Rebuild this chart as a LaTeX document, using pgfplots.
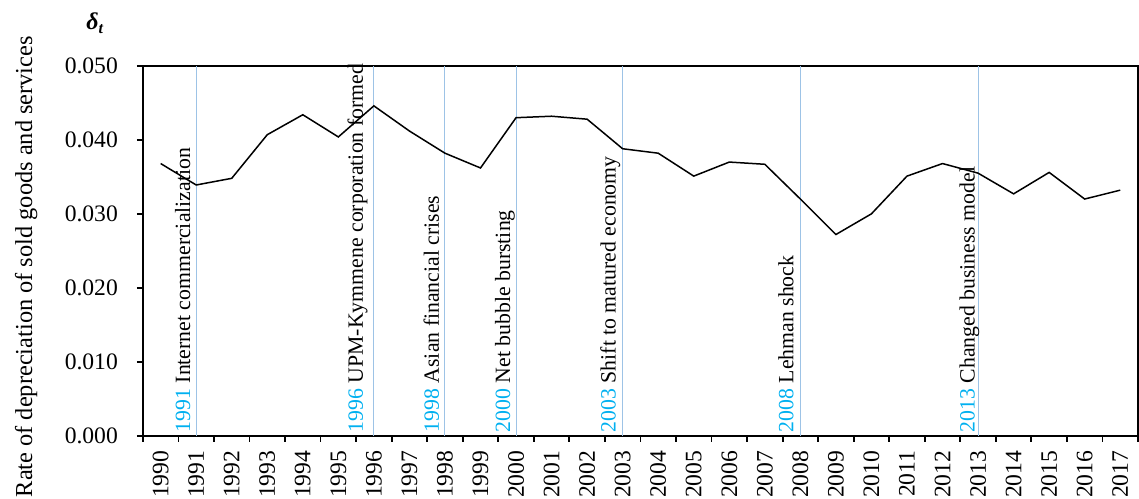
\documentclass[border=0pt]{standalone}
\usepackage{fontspec}
\setmainfont{Liberation Serif}
\usepackage{pgfplots}
\pgfplotsset{compat=1.18}

\definecolor{evline}{RGB}{157,195,230}
\definecolor{evyear}{RGB}{0,176,240}
\newcommand{\tickfont}{\fontsize{11.8}{14}\selectfont}
\newcommand{\evfont}{\fontsize{10.9}{13}\selectfont}

\begin{document}
\begin{tikzpicture}
\begin{axis}[
    name=ax,
    scale only axis,
    width=498pt, height=185pt,
    xmin=-0.5, xmax=27.5,
    ymin=0, ymax=0.05,
    clip=false,
    axis line style={line width=0.9pt},
    tick pos=left,
    tick align=outside,
    major tick length=3pt,
    tick style={black, line width=0.9pt},
    xtick={-0.5,0.5,...,27.5},
    xticklabels={},
    extra x ticks={0,...,27},
    extra x tick labels={1990,1991,1992,1993,1994,1995,1996,1997,1998,1999,2000,2001,2002,2003,2004,2005,2006,2007,2008,2009,2010,2011,2012,2013,2014,2015,2016,2017},
    extra x tick style={major tick length=0pt,
        xticklabel style={yshift=-4pt, rotate=90, anchor=east, font=\tickfont}},
    ytick={0,0.01,0.02,0.03,0.04,0.05},
    scaled y ticks=false,
    yticklabel style={font=\tickfont, xshift=-6pt,
        /pgf/number format/.cd, fixed, fixed zerofill, precision=3},
    /pgf/number format/assume math mode=true,
    ylabel={Rate of depreciation of sold goods and services},
    ylabel style={font=\fontsize{12.2}{14}\selectfont,
        at={([xshift=-67.5pt]axis description cs:0,0.457)}, anchor=north},
]

% event markers
\addplot[evline, line width=0.5pt, forget plot] coordinates {(1,0) (1,0.05)};
\addplot[evline, line width=0.5pt, forget plot] coordinates {(6,0) (6,0.05)};
\addplot[evline, line width=0.5pt, forget plot] coordinates {(8,0) (8,0.05)};
\addplot[evline, line width=0.5pt, forget plot] coordinates {(10,0) (10,0.05)};
\addplot[evline, line width=0.5pt, forget plot] coordinates {(13,0) (13,0.05)};
\addplot[evline, line width=0.5pt, forget plot] coordinates {(18,0) (18,0.05)};
\addplot[evline, line width=0.5pt, forget plot] coordinates {(23,0) (23,0.05)};

% delta_t
\addplot[black, line width=0.75pt] coordinates {
    (0,0.0368) (1,0.0339) (2,0.0348) (3,0.0407) (4,0.0434) (5,0.0404)
    (6,0.0446) (7,0.0412) (8,0.0382) (9,0.0362) (10,0.0430) (11,0.0432)
    (12,0.0428) (13,0.0388) (14,0.0382) (15,0.0351) (16,0.0370) (17,0.0367)
    (18,0.0320) (19,0.0272) (20,0.0300) (21,0.0351) (22,0.0368) (23,0.0355)
    (24,0.0327) (25,0.0356) (26,0.0320) (27,0.0332)
};

\node[rotate=90, anchor=base west, inner sep=0pt, font=\evfont]
    at ([xshift=-3pt,yshift=1.5pt]axis cs:1,0) {\textcolor{evyear}{1991} Internet commercialization};
\node[rotate=90, anchor=base west, inner sep=0pt, font=\evfont]
    at ([xshift=-5.5pt,yshift=1.5pt]axis cs:6,0) {\textcolor{evyear}{1996} UPM-Kymmene corporation formed};
\node[rotate=90, anchor=base west, inner sep=0pt, font=\evfont]
    at ([xshift=-3pt,yshift=1.5pt]axis cs:8,0) {\textcolor{evyear}{1998} Asian financial crises};
\node[rotate=90, anchor=base west, inner sep=0pt, font=\evfont]
    at ([xshift=-3pt,yshift=1.5pt]axis cs:10,0) {\textcolor{evyear}{2000} Net bubble bursting};
\node[rotate=90, anchor=base west, inner sep=0pt, font=\evfont]
    at ([xshift=-3.5pt,yshift=1.5pt]axis cs:13,0) {\textcolor{evyear}{2003} Shift to matured economy};
\node[rotate=90, anchor=base west, inner sep=0pt, font=\evfont]
    at ([xshift=-3.5pt,yshift=1.5pt]axis cs:18,0) {\textcolor{evyear}{2008} Lehman shock};
\node[rotate=90, anchor=base west, inner sep=0pt, font=\evfont]
    at ([xshift=-1.75pt,yshift=1.5pt]axis cs:23,0) {\textcolor{evyear}{2013} Changed business model};

\end{axis}

\node[anchor=base west, inner sep=0pt, font=\fontsize{12}{14}\selectfont\bfseries\itshape]
    at ([shift={(-28.5pt,18pt)}]ax.north west) {δ\textsubscript{t}};

\pgfresetboundingbox
\path ([shift={(-71.5pt,-31.5pt)}]ax.south west) rectangle ([shift={(0.5pt,33pt)}]ax.north east);
\end{tikzpicture}
\end{document}
